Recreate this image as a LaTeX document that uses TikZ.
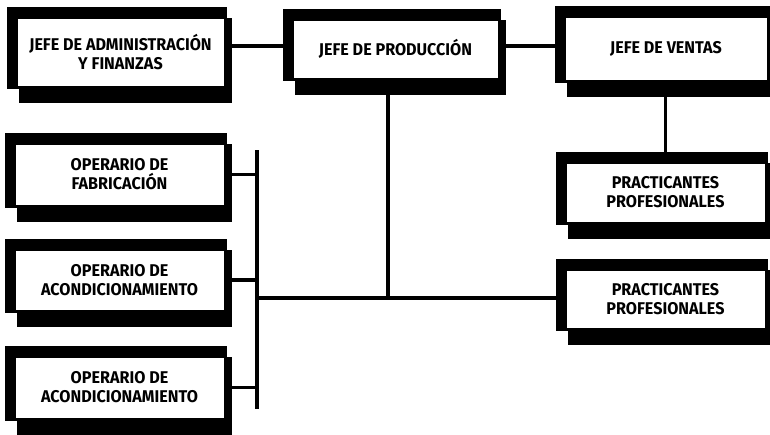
\documentclass[tikz,border=0pt]{standalone}
\usepackage{fontspec}
\newfontfamily\boxfont{Fira Sans}[FakeStretch=0.95]
\usetikzlibrary{backgrounds,calc}
\begin{document}
\begin{tikzpicture}[x=1pt,y=-1pt,
  ob/.style={draw=black, line width=0.8pt, fill=white, inner sep=0pt, align=center,
    font=\boxfont\bfseries\fontsize{17}{19}\selectfont},
  conn/.style={line width=3.2pt, line cap=rect}]
\useasboundingbox (0,0) rectangle (770,435);
\node[ob, minimum width=207pt, minimum height=68pt] (adm) at (120.5,52) {JEFE DE ADMINISTRACIÓN\\Y FINANZAS};
\node[ob, minimum width=205pt, minimum height=58pt] (prod) at (395.5,49) {JEFE DE PRODUCCIÓN};
\node[ob, minimum width=202pt, minimum height=63pt] (ven) at (666,48.5) {JEFE DE VENTAS};
\node[ob, minimum width=199pt, minimum height=59pt] (pr1) at (665.5,192.5) {PRACTICANTES\\PROFESIONALES};
\node[ob, minimum width=199pt, minimum height=58pt] (pr2) at (665.5,299) {PRACTICANTES\\PROFESIONALES};
\node[ob, minimum width=209pt, minimum height=61pt] (fab) at (119.5,174.5) {OPERARIO DE\\FABRICACIÓN};
\node[ob, minimum width=209pt, minimum height=60pt] (ac1) at (119.5,280) {OPERARIO DE\\ACONDICIONAMIENTO};
\node[ob, minimum width=209pt, minimum height=61pt] (ac2) at (119.5,387.5) {OPERARIO DE\\ACONDICIONAMIENTO};
\coordinate (ly) at (0,46);
\coordinate (jn) at (388,298);
\coordinate (bt) at (257,152);
\coordinate (bb) at (257,407);
\begin{pgfonlayer}{background}
\foreach \n in {adm,prod,ven,pr1,pr2,fab,ac1,ac2}{
  \fill[black] ($(\n.north west)+(-10,-11)$) rectangle ($(\n.south east)+(3,3)$);
  \fill[black] ($(\n.north west)+(2,0)$) rectangle ($(\n.south east)+(8,17)$);
}
\draw[conn] (adm.east |- ly) -- (prod.west |- ly);
\draw[conn] (prod.east |- ly) -- (ven.west |- ly);
\draw[conn] (jn |- prod.south) -- (jn);
\draw[conn] (bt |- jn) -- (pr2.west |- jn);
\draw[conn] (pr1.north) -- (pr1.north |- ven.south);
\draw[conn] (bt) -- (bb);
\draw[conn] (fab.east) -- (fab.east -| bt);
\draw[conn] (ac1.east) -- (ac1.east -| bt);
\draw[conn] (ac2.east) -- (ac2.east -| bt);
\end{pgfonlayer}
\end{tikzpicture}
\end{document}
